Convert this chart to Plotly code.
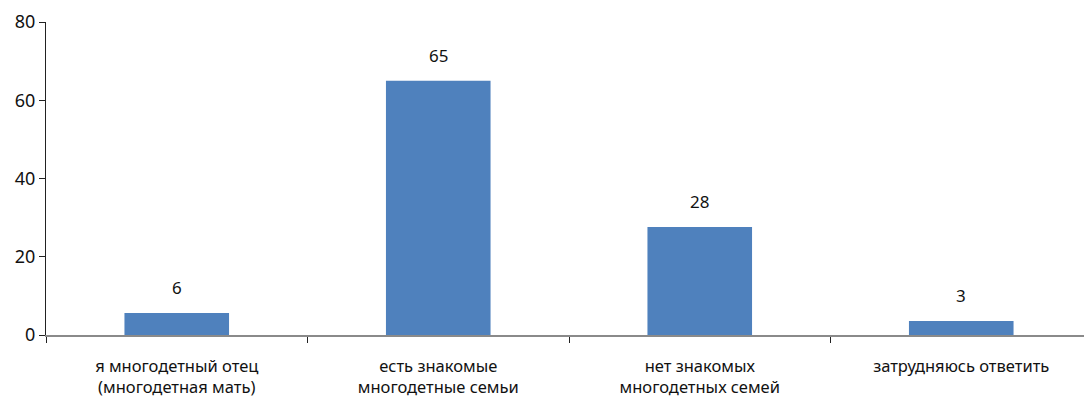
import plotly.graph_objects as go

# данные
categories = [
    "я многодетный отец<br>(многодетная мать)",
    "есть знакомые<br>многодетные семьи",
    "нет знакомых<br>многодетных семей",
    "затрудняюсь ответить",
]
values = [5.6, 65.0, 27.6, 3.6]
labels = ["6", "65", "28", "3"]
y_ticks = [0, 20, 40, 60, 80]

FONT = "Noto Sans"
BAR_COLOR = "#4F81BD"

fig = go.Figure()

fig.add_trace(go.Bar(
    x=categories,
    y=values,
    width=0.4,
    marker_color=BAR_COLOR,
    marker_line_width=0,
    showlegend=False,
    hoverinfo="skip",
))

# подписи над столбцами
for cat, val, lab in zip(categories, values, labels):
    fig.add_annotation(
        x=cat, y=val, text=lab, showarrow=False,
        yanchor="bottom", yshift=12,
        font=dict(family=FONT, size=17, color="#111111"),
    )

# страница имеет отступ 8px, поэтому поля чуть меньше
fig.update_layout(
    width=1092,
    height=399,
    margin=dict(l=38, r=8, t=14, b=72, autoexpand=False),
    paper_bgcolor="white",
    plot_bgcolor="white",
    font=dict(family=FONT, size=16, color="#111111"),
    bargap=0.6,
)

fig.update_yaxes(
    range=[0, 80],
    tickvals=y_ticks,
    showgrid=False,
    zeroline=False,
    showline=True,
    linecolor="#222222",
    linewidth=1,
    ticks="outside",
    ticklen=6,
    tickcolor="#222222",
    tickfont=dict(family=FONT, size=18),
    automargin=False,
)

fig.update_xaxes(
    showgrid=False,
    showline=True,
    linecolor="#8a8a8a",
    linewidth=2,
    ticks="outside",
    tickson="boundaries",
    ticklen=6,
    tickcolor="#222222",
    ticklabelstandoff=15,
    tickfont=dict(family=FONT, size=16.5),
    automargin=False,
)

fig.write_html("out.html")
